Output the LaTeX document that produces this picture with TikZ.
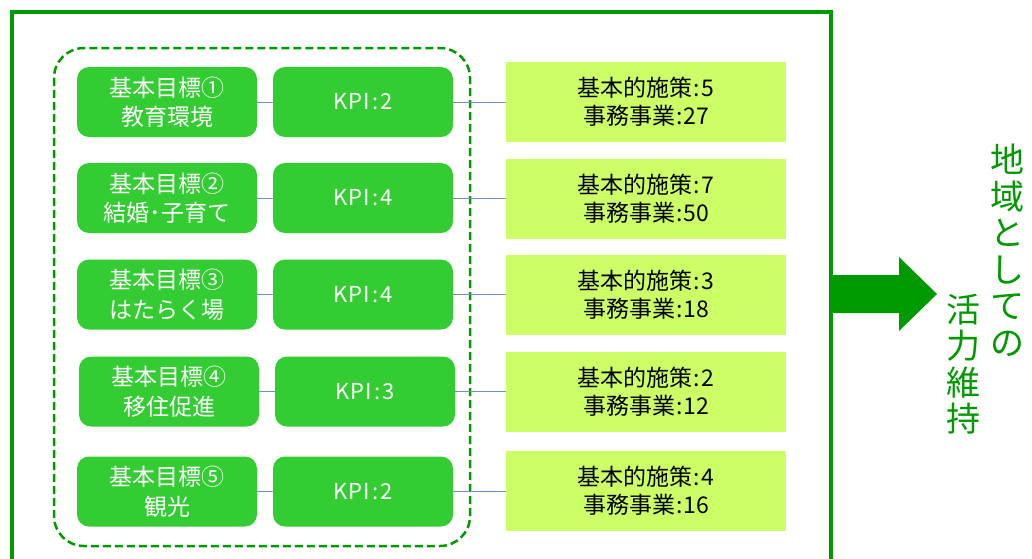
\documentclass[tikz,border=0pt]{standalone}
\usepackage{fontspec}
\setmainfont{Noto Sans CJK JP}
\definecolor{framegreen}{HTML}{009900}
\definecolor{boxgreen}{HTML}{33CC33}
\definecolor{lime}{HTML}{CCFF66}
\definecolor{linkblue}{HTML}{7090C0}
\begin{document}
\begin{tikzpicture}[x=1pt,y=-1pt,
  goal/.style={fill=boxgreen, rounded corners=12pt, minimum width=180pt, minimum height=70pt, text=white, font=\fontsize{23}{29.5}\selectfont, align=center, inner sep=0pt},
  kpi/.style={fill=boxgreen, rounded corners=12pt, minimum width=180pt, minimum height=70pt, text=white, font=\fontsize{22}{26}\selectfont, align=center, inner sep=0pt},
  result/.style={fill=lime, minimum width=280pt, minimum height=80pt, text=black, font=\fontsize{23}{28}\selectfont, align=center, inner sep=0pt},
  link/.style={draw=linkblue, line width=0.9pt},
  vtext/.style={text=framegreen, font=\fontsize{34}{36.5}\selectfont, align=center, inner sep=0pt}
]
\useasboundingbox (0,0) rectangle (1032,558);
% outer frame (open at bottom)
\draw[framegreen, line width=4pt] (12,560) -- (12,12) -- (831,12) -- (831,560);
% dashed group
\draw[framegreen, line width=2.5pt, dash pattern=on 8pt off 4pt, rounded corners=30pt] (54,48) rectangle (470,546);
% rows
\node[goal] (g1) at (167,102) {基本目標①\\教育環境};
\node[goal] (g2) at (167,198) {基本目標②\\結婚･子育て};
\node[goal] (g3) at (167,294.5) {基本目標③\\はたらく場};
\node[goal] (g4) at (169,391.5) {基本目標④\\移住促進};
\node[goal] (g5) at (167,491.5) {基本目標⑤\\観光};
\node[kpi] (k1) at (363,102) {K\kern1pt P\kern1pt I\kern2pt:\kern2pt 2};
\node[kpi] (k2) at (363,198) {K\kern1pt P\kern1pt I\kern2pt:\kern2pt 4};
\node[kpi] (k3) at (363,294.5) {K\kern1pt P\kern1pt I\kern2pt:\kern2pt 4};
\node[kpi] (k4) at (365,391.5) {K\kern1pt P\kern1pt I\kern2pt:\kern2pt 3};
\node[kpi] (k5) at (363,491.5) {K\kern1pt P\kern1pt I\kern2pt:\kern2pt 2};
\node[result] (r1) at (646,102) {基本的施策\kern1pt:\kern1pt 5\\事務事業\kern1pt:\kern1pt 27};
\node[result] (r2) at (646,199) {基本的施策\kern1pt:\kern1pt 7\\事務事業\kern1pt:\kern1pt 50};
\node[result] (r3) at (646,295) {基本的施策\kern1pt:\kern1pt 3\\事務事業\kern1pt:\kern1pt 18};
\node[result] (r4) at (646,392) {基本的施策\kern1pt:\kern1pt 2\\事務事業\kern1pt:\kern1pt 12};
\node[result] (r5) at (646,491) {基本的施策\kern1pt:\kern1pt 4\\事務事業\kern1pt:\kern1pt 16};
\foreach \i in {1,...,5}{
  \draw[link] (g\i.east) -- (k\i.west);
  \draw[link] (k\i.east) -- (k\i.east -| r\i.west);
}
% block arrow
\fill[framegreen] (831,275) -- (899,275) -- (899,257) -- (937,294) -- (899,331) -- (899,313) -- (831,313) -- cycle;
% vertical text
\node[vtext] (t1) at (1007,250) {地\\域\\と\\し\\て\\の};
\node[vtext] (t2) at (963,364) {活\\力\\維\\持};
\end{tikzpicture}
\end{document}
